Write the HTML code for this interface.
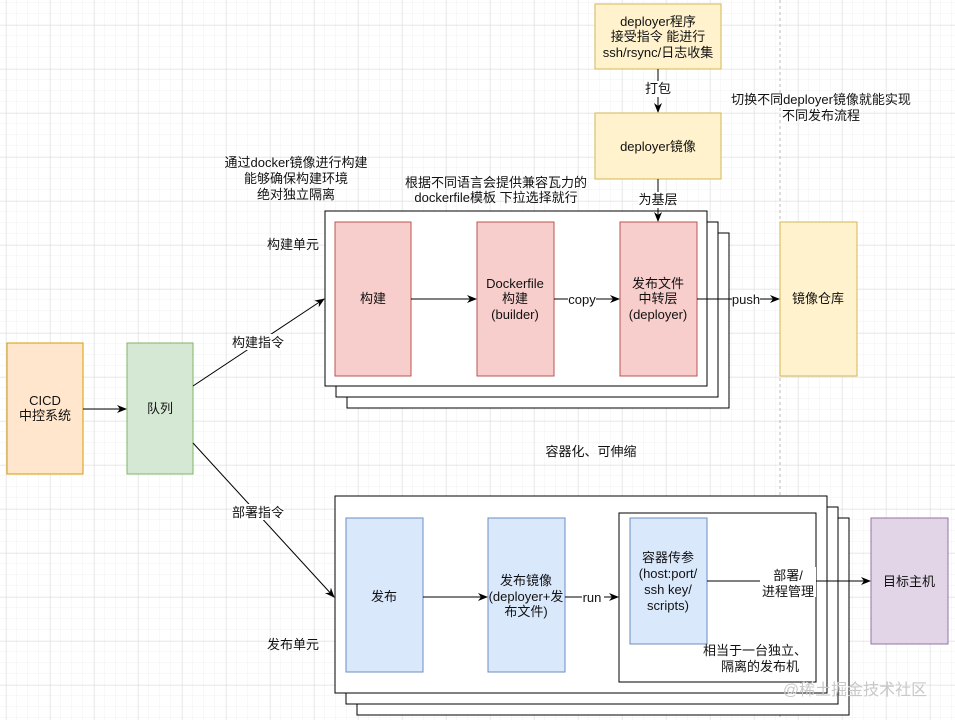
<!DOCTYPE html>
<html><head><meta charset="utf-8"><style>
html,body{margin:0;padding:0;background:#fff;}
svg{display:block;}
text{font-family:"Liberation Sans","Noto Sans CJK SC",sans-serif;font-size:13px;fill:#111;text-anchor:middle;}
</style></head><body>
<svg width="955" height="720" viewBox="0 0 955 720" xmlns="http://www.w3.org/2000/svg">
<defs>
<pattern id="minor" x="6" y="3" width="11" height="11" patternUnits="userSpaceOnUse">
<path d="M11 0V11M0 11H11" stroke="#f0f0f0" stroke-width="1" fill="none"/>
</pattern>
<pattern id="major" x="6" y="25" width="44" height="44" patternUnits="userSpaceOnUse">
<path d="M0 0V44M0 0H44" stroke="#dcdcdc" stroke-width="1" fill="none"/>
</pattern>
<marker id="a" markerWidth="10" markerHeight="10" refX="9" refY="5" orient="auto" markerUnits="userSpaceOnUse">
<path d="M0,1 L10,5 L0,9 L3,5 Z" fill="#000"/>
</marker>
</defs>
<rect width="955" height="720" fill="#fff"/>
<rect width="955" height="720" fill="url(#minor)"/>
<rect width="955" height="720" fill="url(#major)"/>
<line x1="780" y1="0" x2="780" y2="720" stroke="#bbb" stroke-dasharray="3,3"/>

<rect x="7" y="343" width="76" height="131" fill="#ffe6cc" stroke="#d79b00"/>
<text x="45" y="405">CICD</text><text x="45" y="420">中控系统</text>
<rect x="127" y="343" width="66" height="131" fill="#d5e8d4" stroke="#82b366"/>
<text x="160" y="413">队列</text>
<line x1="83" y1="409" x2="126" y2="409" stroke="#000" marker-end="url(#a)"/>
<line x1="193" y1="386" x2="324" y2="299" stroke="#000" marker-end="url(#a)"/>
<rect x="232" y="334" width="52" height="16" fill="#fff"/>
<text x="258" y="347">构建指令</text>
<line x1="193" y1="443" x2="334" y2="597" stroke="#000" marker-end="url(#a)"/>
<rect x="232" y="504" width="52" height="16" fill="#fff"/>
<text x="258" y="517">部署指令</text>

<text x="296" y="167">通过docker镜像进行构建</text>
<text x="296" y="183">能够确保构建环境</text>
<text x="296" y="199">绝对独立隔离</text>
<text x="496" y="187">根据不同语言会提供兼容瓦力的</text>
<text x="496" y="202">dockerfile模板 下拉选择就行</text>
<text x="293" y="249">构建单元</text>
<text x="293" y="649">发布单元</text>
<text x="591" y="456">容器化、可伸缩</text>
<text x="821" y="104">切换不同deployer镜像就能实现</text>
<text x="821" y="120">不同发布流程</text>

<rect x="595" y="4" width="126" height="65" fill="#fff2cc" stroke="#d6b656"/>
<text x="658" y="26">deployer程序</text><text x="658" y="41">接受指令 能进行</text><text x="658" y="57">ssh/rsync/日志收集</text>
<line x1="658" y1="69" x2="658" y2="112" stroke="#000" marker-end="url(#a)"/>
<rect x="645" y="81" width="26" height="16" fill="#fff"/>
<text x="658" y="93">打包</text>
<rect x="595" y="113" width="126" height="66" fill="#fff2cc" stroke="#d6b656"/>
<text x="658" y="151">deployer镜像</text>

<rect x="347" y="233" width="382" height="175" fill="#fff" stroke="#000"/>
<rect x="336" y="222" width="382" height="175" fill="#fff" stroke="#000"/>
<rect x="325" y="211" width="382" height="175" fill="#fff" stroke="#000"/>
<line x1="658" y1="179" x2="658" y2="221" stroke="#000" marker-end="url(#a)"/>
<rect x="638" y="192" width="40" height="16" fill="#fff"/>
<text x="658" y="204">为基层</text>
<rect x="335" y="222" width="76" height="154" fill="#f8cecc" stroke="#b85450"/>
<text x="373" y="303">构建</text>
<rect x="477" y="222" width="77" height="154" fill="#f8cecc" stroke="#b85450"/>
<text x="515" y="288">Dockerfile</text><text x="515" y="303">构建</text><text x="515" y="319">(builder)</text>
<rect x="620" y="222" width="77" height="154" fill="#f8cecc" stroke="#b85450"/>
<text x="658" y="288">发布文件</text><text x="658" y="303">中转层</text><text x="658" y="319">(deployer)</text>
<rect x="780" y="222" width="77" height="154" fill="#fff2cc" stroke="#d6b656"/>
<text x="818" y="303">镜像仓库</text>
<line x1="411" y1="299" x2="476" y2="299" stroke="#000" marker-end="url(#a)"/>
<line x1="554" y1="299" x2="619" y2="299" stroke="#000" marker-end="url(#a)"/>
<rect x="568" y="292" width="28" height="14" fill="#fff"/>
<text x="582" y="304">copy</text>
<line x1="697" y1="299" x2="779" y2="299" stroke="#000" marker-end="url(#a)"/>
<rect x="732" y="292" width="28" height="14" fill="#fff"/>
<text x="746" y="304">push</text>

<rect x="357" y="518" width="492" height="197" fill="#fff" stroke="#000"/>
<rect x="346" y="507" width="492" height="197" fill="#fff" stroke="#000"/>
<rect x="335" y="496" width="492" height="197" fill="#fff" stroke="#000"/>
<rect x="346" y="518" width="77" height="154" fill="#dae8fc" stroke="#6c8ebf"/>
<text x="384" y="601">发布</text>
<rect x="488" y="518" width="77" height="154" fill="#dae8fc" stroke="#6c8ebf"/>
<text x="526" y="585">发布镜像</text><text x="526" y="601">(deployer+发</text><text x="526" y="616">布文件)</text>
<rect x="619" y="513" width="197" height="169" fill="#fff" stroke="#000"/>
<rect x="630" y="518" width="77" height="126" fill="#dae8fc" stroke="#6c8ebf"/>
<text x="668" y="562">容器传参</text><text x="668" y="578">(host:port/</text><text x="668" y="594">ssh key/</text><text x="668" y="610">scripts)</text>
<rect x="871" y="518" width="77" height="126" fill="#e1d5e7" stroke="#9673a6"/>
<text x="909" y="586">目标主机</text>
<line x1="423" y1="597" x2="487" y2="597" stroke="#000" marker-end="url(#a)"/>
<line x1="565" y1="597" x2="618" y2="597" stroke="#000" marker-end="url(#a)"/>
<rect x="582" y="590" width="22" height="14" fill="#fff"/>
<text x="592" y="602">run</text>
<line x1="707" y1="581" x2="870" y2="581" stroke="#000" marker-end="url(#a)"/>
<rect x="760" y="567" width="56" height="30" fill="#fff"/>
<text x="788" y="580">部署/</text><text x="788" y="596">进程管理</text>
<text x="755" y="655">相当于一台独立、</text><text x="760" y="671">隔离的发布机</text>
<text x="855" y="695" style="fill:#c8c8c8;font-size:16px">@稀土掘金技术社区</text>
</svg>
</body></html>
